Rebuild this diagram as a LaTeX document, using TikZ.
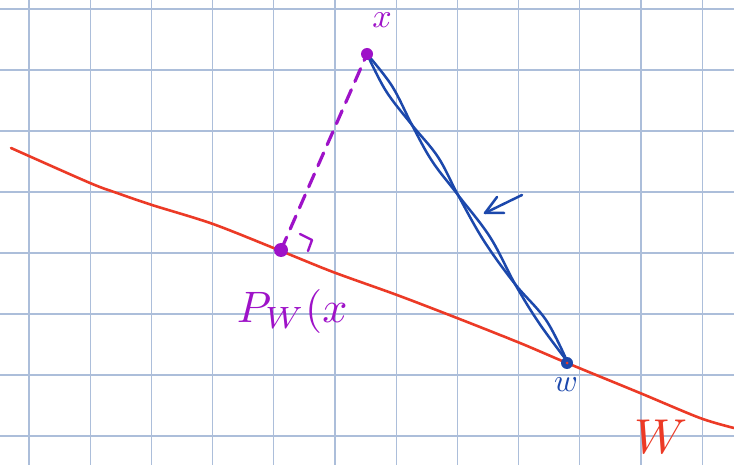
\documentclass[tikz,border=0pt]{standalone}
\usetikzlibrary{calc}
\definecolor{gridc}{RGB}{172,190,218}
\definecolor{penred}{RGB}{236,58,38}
\definecolor{penblue}{RGB}{28,72,172}
\definecolor{penpurple}{RGB}{158,18,200}
\tikzset{
  gridline/.style={draw=gridc, line width=1.2pt},
  redpen/.style={draw=penred, line width=2.6pt, line cap=round, line join=round},
  bluepen/.style={draw=penblue, line width=2.5pt, line cap=round, line join=round},
  purplepen/.style={draw=penpurple, line width=3.2pt, line cap=round, line join=round},
  lbl/.style={inner sep=0pt},
}
\begin{document}
\begin{tikzpicture}[x=1pt,y=-1pt]
\useasboundingbox (0,0) rectangle (734,465);
\fill[white] (0,0) rectangle (734,465);
% grid
\foreach \gx in {29,90.2,151.4,212.6,273.8,335,396.2,457.4,518.6,579.8,641,702.2}
  \draw[gridline] (\gx,0) -- (\gx,465);
\foreach \gy in {9,70,131,192,253,314,375,436}
  \draw[gridline] (0,\gy) -- (734,\gy);
% points
\coordinate (X) at (367,54);
\coordinate (P) at (281,250);
\coordinate (Wp) at (567,363);
% red line W
\draw[redpen] plot[smooth, tension=0.5] coordinates {(11,148) (90,183) (117,193) (152,205) (213,224) (281,251) (333,272) (397,295) (457,318) (520,343) (567,363) (640,393) (700,418) (734,428)};
% purple dashed segment
\draw[purplepen, dash pattern=on 14pt off 9pt] (P) -- (X);
% right angle mark
\draw[purplepen, line width=2.4pt] (300,234) -- (312,240) -- (308,251);
% blue double strand
\draw[bluepen] plot[smooth, tension=0.6] coordinates {(X) (392,86) (412,125) (432,161) (458,195) (490,237) (515,284) (539,323) (567,361)};
\draw[bluepen] plot[smooth, tension=0.6] coordinates {(X) (386,91) (412,125) (438,157) (458,195) (484,241) (515,284) (546,320) (567,361)};
% blue arrow
\coordinate (At) at (522,195);
\coordinate (Ah) at (485,213);
\draw[bluepen] (At) -- (Ah);
\draw[bluepen] (497,197) -- (Ah) -- (504,213);
% dots
\fill[penpurple] (X) circle (6pt);
\fill[penpurple] (P) circle (7pt);
\fill[penblue] (Wp) circle (6pt);
\fill[penred] (Wp) circle (1.5pt);
% labels
\node[lbl, text=penpurple, scale=3.4] (lx) at (382,20) {$x$};
\node[lbl, text=penpurple, scale=4.4, anchor=base west] (lp) at (236,322) {$P_W(x$};
\node[lbl, text=penblue, scale=3.2] (lw) at (566,385) {$w$};
\node[lbl, text=penred, scale=4.9] (lW) at (661,437) {$W$};
\end{tikzpicture}
\end{document}
